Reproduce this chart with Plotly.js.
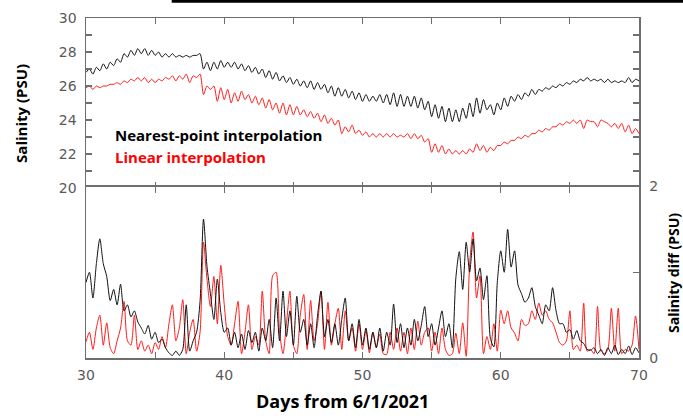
<!DOCTYPE html>
<html>
<head>
<meta charset="utf-8">
<script src="https://cdn.plot.ly/plotly-3.0.1.min.js"></script>
<style>html,body{margin:0;padding:0;background:#fff;}#chart{width:683px;height:418px;}</style>
</head>
<body>
<div id="chart"></div>
<script>
// Sampling grid: days from 6/1/2021, every 0.25 day from 30 to 70
const dayStart = 30, dayStep = 0.25;

// Top panel: salinity (PSU)
const salNearest = [
26.8,27.0,26.7,27.1, 26.9,27.3,27.0,27.4, 27.2,27.6,27.4,27.9, 27.7,28.1,27.8,28.2,
27.9,28.2,27.8,28.1, 27.8,28.0,27.7,27.9, 27.7,27.9,27.7,27.8, 27.7,27.8,27.7,27.8,
27.8,27.9,27.0,27.4, 26.9,27.4,27.0,27.5, 27.1,27.4,27.1,27.4, 27.0,27.3,26.9,27.2,
26.8,27.1,26.7,27.0, 26.5,26.9,26.4,26.8, 26.3,26.6,26.2,26.5, 26.1,26.4,26.0,26.3,
25.9,26.3,25.8,26.2, 25.8,26.1,25.6,26.0, 25.4,25.9,25.4,25.8, 25.3,25.7,25.2,25.6,
25.1,25.5,25.1,25.4, 25.1,25.5,25.0,25.5, 24.9,25.6,24.8,25.5, 24.8,25.4,24.8,25.4,
24.7,25.3,24.6,25.1, 24.2,24.9,24.1,24.8, 23.9,24.7,23.9,24.6, 23.9,24.7,24.1,25.0,
24.2,25.3,24.4,25.2, 24.6,24.9,24.3,25.0, 24.6,25.3,24.8,25.4, 25.1,25.5,25.2,25.6,
25.4,25.8,25.5,25.8, 25.7,25.9,25.8,26.0, 25.9,26.1,26.0,26.2, 26.1,26.3,26.2,26.4,
26.3,26.5,26.3,26.4, 26.3,26.4,26.2,26.4, 26.2,26.3,26.2,26.3, 26.2,26.5,26.2,26.4,
26.3
];
const salLinear = [
25.9,26.0,25.8,26.0, 25.9,26.0,26.0,26.1, 26.1,26.2,26.1,26.3, 26.2,26.4,26.3,26.5,
26.3,26.5,26.2,26.4, 26.2,26.4,26.3,26.5, 26.4,26.6,26.3,26.6, 26.4,26.7,26.2,26.6,
26.5,26.7,25.5,26.0, 25.8,26.0,25.1,25.9, 25.2,25.8,25.0,25.6, 25.1,25.7,25.2,25.5,
25.0,25.4,24.9,25.3, 24.7,25.2,24.6,25.0, 24.4,25.0,24.3,24.9, 24.3,24.8,24.3,24.6,
24.2,24.5,24.1,24.4, 23.9,24.3,23.8,24.1, 23.7,24.0,23.2,23.6, 23.3,23.7,23.2,23.4,
23.1,23.3,23.0,23.2, 23.0,23.2,23.0,23.2, 23.0,23.2,23.0,23.1, 23.0,23.2,22.9,23.2,
22.9,23.1,22.7,22.9, 22.1,22.6,22.1,22.5, 22.0,22.3,22.0,22.2, 22.0,22.2,22.0,22.3,
22.1,22.6,22.2,22.5, 22.1,22.4,22.2,22.5, 22.5,22.7,22.6,22.8, 22.8,23.0,22.9,23.1,
23.0,23.2,23.2,23.4, 23.3,23.5,23.4,23.6, 23.6,23.8,23.7,23.9, 23.8,24.0,23.8,24.0,
23.5,24.0,23.9,23.9, 23.6,24.0,23.9,23.8, 23.6,23.8,23.5,23.8, 23.3,23.7,23.2,23.5,
23.2
];

// Bottom panel: salinity difference (PSU)
const diffNearest = [
0.88,1.00,0.70,1.10, 1.39,1.10,0.95,0.67, 0.80,0.62,0.86,0.55, 0.62,0.48,0.55,0.42,
0.35,0.28,0.38,0.22, 0.30,0.18,0.22,0.12, 0.06,0.03,0.08,0.03, 0.10,0.62,0.08,0.20,
0.30,0.66,1.62,1.07, 0.75,0.45,0.92,0.53, 0.30,0.35,0.15,0.30, 0.12,0.28,0.10,0.32,
0.18,0.30,0.08,0.35, 0.20,0.45,0.12,0.70, 0.20,0.78,0.25,0.55, 0.15,0.72,0.30,0.45,
0.15,0.40,0.12,0.50, 0.78,0.25,0.45,0.18, 0.40,0.15,0.45,0.70, 0.20,0.40,0.12,0.45,
0.15,0.35,0.10,0.30, 0.12,0.35,0.08,0.30, 0.15,0.63,0.18,0.40, 0.12,0.35,0.15,0.45,
0.20,0.38,0.60,0.25, 0.40,0.15,0.35,0.55, 0.25,0.40,0.12,0.93, 1.24,0.80,1.35,1.00,
1.39,0.90,1.05,0.68, 0.96,0.23,0.13,0.88, 1.25,1.00,1.50,1.06, 1.25,0.85,0.75,0.65,
0.70,0.82,0.60,0.50, 0.40,0.62,0.55,0.82, 0.55,0.40,0.40,0.30, 0.33,0.22,0.32,0.20,
0.17,0.10,0.09,0.12, 0.05,0.10,0.03,0.12, 0.05,0.15,0.04,0.10, 0.05,0.14,0.04,0.12,
0.06
];
const diffLinear = [
0.19,0.30,0.10,0.35, 0.50,0.15,0.41,0.12, 0.05,0.20,0.35,0.66, 0.20,0.15,0.50,0.10,
0.20,0.08,0.15,0.05, 0.18,0.10,0.25,0.12, 0.40,0.62,0.20,0.35, 0.68,0.05,0.30,0.45,
0.08,0.30,1.35,0.92, 0.60,0.95,0.40,1.08, 0.62,0.25,0.15,0.40, 0.66,0.05,0.30,0.62,
0.10,0.25,0.15,0.78, 0.20,0.05,0.96,1.00, 0.30,0.05,0.40,0.78, 0.15,0.05,0.50,0.74,
0.10,0.67,0.20,0.40, 0.78,0.10,0.65,0.15, 0.40,0.58,0.10,0.55, 0.20,0.35,0.08,0.40,
0.10,0.32,0.06,0.30, 0.12,0.28,0.05,0.04, 0.30,0.10,0.35,0.08, 0.30,0.05,0.35,0.10,
0.43,0.15,0.30,0.35, 0.08,0.30,0.05,0.35, 0.10,0.03,0.05,0.29, 0.05,0.41,0.02,1.10,
1.47,0.70,0.96,0.05, 0.25,0.10,0.40,0.08, 0.56,0.40,0.55,0.35, 0.29,0.20,0.45,0.38,
0.40,0.55,0.45,0.64, 0.50,0.55,0.45,0.41, 0.30,0.18,0.15,0.20, 0.55,0.10,0.15,0.08,
0.64,0.08,0.10,0.05, 0.60,0.08,0.05,0.10, 0.58,0.08,0.58,0.05, 0.10,0.08,0.15,0.49,
0.10
];

// Tick labels
const xTickVals = [30,35,40,45,50,55,60,65,70];
const xTickText = ['30','','40','','50','','60','','70'];
const ySalVals = [20,21,22,23,24,25,26,27,28,29,30];
const ySalText = ['20','','22','','24','','26','','28','','30'];
const yDiffVals = [0,1,2];
const yDiffText = ['0','','2'];

const seriesNames = ['Nearest-point interpolation','Linear interpolation'];
const titleX = 'Days from 6/1/2021';
const titleYLeft = 'Salinity (PSU)';
const titleYRight = 'Salinity diff (PSU)';

const days = salNearest.map((_, i) => dayStart + dayStep * i);

const black = '#111111', red = '#ff1a1a';
const axisCol = '#6e6e6e';
const tickFont = {family: 'DejaVu Sans', size: 14, color: '#5a5a5a'};
const boldFont = 'Open Sans';
const lineStyle = (c) => ({color: c, width: 1, shape: 'spline', smoothing: 0.7});

const traces = [
  {x: days, y: salNearest, xaxis: 'x', yaxis: 'y', mode: 'lines', line: lineStyle(black), name: seriesNames[0]},
  {x: days, y: salLinear, xaxis: 'x', yaxis: 'y', mode: 'lines', line: lineStyle(red), name: seriesNames[1]},
  {x: days, y: diffLinear, xaxis: 'x2', yaxis: 'y2', mode: 'lines', line: lineStyle(red), name: seriesNames[1]},
  {x: days, y: diffNearest, xaxis: 'x2', yaxis: 'y2', mode: 'lines', line: lineStyle(black), name: seriesNames[0]}
];

const common = {showgrid: false, zeroline: false, showline: true, linecolor: axisCol, linewidth: 1.5,
  ticks: 'inside', ticklen: 6, tickcolor: axisCol, tickwidth: 1.2, tickfont: tickFont};

const layout = {
  width: 683, height: 418,
  margin: {l: 86, r: 44, t: 18, b: 60},
  paper_bgcolor: '#ffffff', plot_bgcolor: '#ffffff',
  showlegend: false,
  xaxis: Object.assign({}, common, {domain: [0, 1], anchor: 'y', range: [30, 70], tickvals: xTickVals,
    showticklabels: false, mirror: 'ticks'}),
  yaxis: Object.assign({}, common, {domain: [0.5, 1], anchor: 'x', range: [20, 30], tickvals: ySalVals,
    ticktext: ySalText, mirror: 'ticks', ticklabelstandoff: 5}),
  xaxis2: Object.assign({}, common, {domain: [0, 1], anchor: 'y2', range: [30, 70], tickvals: xTickVals,
    ticktext: xTickText, mirror: 'ticks', ticklabelstandoff: 4}),
  yaxis2: Object.assign({}, common, {domain: [0, 0.5044], anchor: 'x2', range: [0, 2], side: 'right',
    tickvals: yDiffVals, ticktext: yDiffText, mirror: true, ticklabelstandoff: 6}),
  annotations: [
    {text: '<b>' + seriesNames[0] + '</b>', xref: 'paper', yref: 'paper', x: 0.048, y: 0.655, xanchor: 'left', yanchor: 'middle',
      showarrow: false, font: {family: boldFont, size: 15, color: '#000'}},
    {text: '<b>' + seriesNames[1] + '</b>', xref: 'paper', yref: 'paper', x: 0.048, y: 0.59, xanchor: 'left', yanchor: 'middle',
      showarrow: false, font: {family: boldFont, size: 15, color: '#ff0000'}},
    {text: '<b>' + titleX + '</b>', xref: 'paper', yref: 'paper', x: 0.463, y: -0.126, xanchor: 'center', yanchor: 'middle',
      showarrow: false, font: {family: boldFont, size: 18, color: '#000'}},
    {text: '<b>' + titleYLeft + '</b>', xref: 'paper', yref: 'paper', x: -0.118, y: 0.72, xanchor: 'center', yanchor: 'middle',
      textangle: -90, showarrow: false, font: {family: boldFont, size: 15, color: '#000'}},
    {text: '<b>' + titleYRight + '</b>', xref: 'paper', yref: 'paper', x: 1.0615, y: 0.25, xanchor: 'center', yanchor: 'middle',
      textangle: -90, showarrow: false, font: {family: boldFont, size: 14, color: '#000'}}
  ],
  shapes: [
    {type: 'rect', xref: 'paper', yref: 'paper', x0: 0.155, x1: 1.08, y0: 1.045, y1: 1.055, line: {width: 0}, fillcolor: '#000'}
  ]
};

Plotly.newPlot('chart', traces, layout, {displayModeBar: false, staticPlot: true});
</script>
</body>
</html>
